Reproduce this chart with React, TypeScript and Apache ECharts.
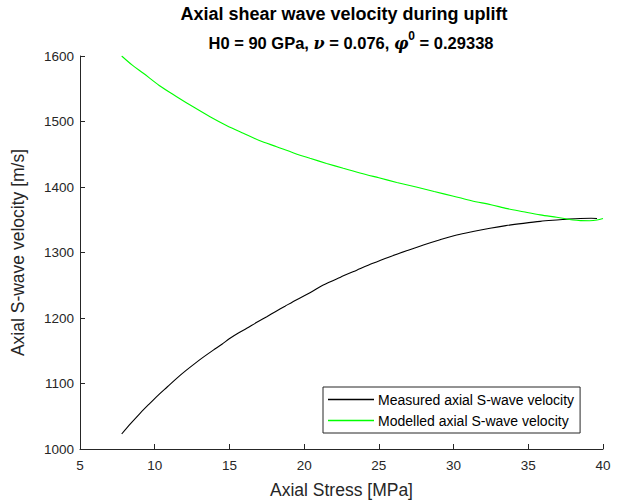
import React, { useEffect, useRef } from "react";
import * as echarts from "echarts";

const xTicks = [5, 10, 15, 20, 25, 30, 35, 40];
const yTicks = [1000, 1100, 1200, 1300, 1400, 1500, 1600];

const measuredStress = [7.79, 8.4, 9.02, 9.6, 10.24, 10.85, 11.47, 12.1, 12.7, 13.3, 13.92, 14.5, 15.04, 15.6, 16.16, 16.8, 17.5, 18.1, 18.72, 19.5, 20.39, 21.28, 22.4, 23.52, 24.6, 25.75, 26.9, 27.98, 29.1, 30.21, 31.3, 32.44, 33.5, 34.67, 35.8, 36.9, 37.7, 38.47, 39.2, 39.6];
const measuredVel = [1022.9, 1039, 1054.5, 1068, 1082.4, 1095, 1107.9, 1120, 1130.8, 1141, 1151, 1160, 1169, 1177, 1184.2, 1193, 1202, 1210, 1218, 1228, 1238.7, 1250.4, 1262, 1273, 1283.5, 1293.6, 1303, 1311.5, 1319.5, 1326.7, 1332, 1337, 1341, 1344.5, 1347.5, 1349.6, 1351, 1352, 1352.3, 1352];

const modelStress = [7.79, 8.5, 9.24, 10.3, 11.47, 12.6, 13.7, 14.8, 15.93, 17.0, 18.16, 19.3, 20.39, 21.5, 22.62, 23.8, 25.0, 26.2, 27.5, 28.7, 30.0, 31.2, 32.5, 33.6, 34.67, 35.8, 36.9, 37.5, 38.0, 38.5, 39.1, 39.6, 40.0];
const modelVel = [1600, 1586, 1573.6, 1555, 1537.9, 1522, 1507.3, 1494, 1482, 1471, 1461.5, 1452, 1443.8, 1436, 1428.5, 1421, 1414, 1407, 1400, 1393, 1386, 1379, 1373, 1367, 1362.3, 1357.5, 1353.7, 1351.5, 1349.6, 1348.7, 1348.5, 1349.5, 1352];

const measuredName = "Measured axial S-wave velocity";
const modelName = "Modelled axial S-wave velocity";
const titleLine1 = "Axial shear wave velocity during uplift";

const FONT = "'Liberation Sans', Arial, Helvetica, sans-serif";
const TXT = "#262626";

export default function App() {
  const ref = useRef<HTMLDivElement>(null);
  useEffect(() => {
    if (!ref.current) return;
    const chart = echarts.init(ref.current, undefined, { renderer: "svg" });
    const axisCommon = {
      axisLine: { show: true, lineStyle: { color: TXT, width: 1 } },
      axisTick: { show: true, inside: true, length: 5, lineStyle: { color: TXT } },
      splitLine: { show: false },
      nameTextStyle: { color: TXT, fontSize: 17.5, fontFamily: FONT },
    };
    const labelBase = { color: TXT, fontSize: 13.5, fontFamily: FONT, formatter: (v: number) => String(v) };
    chart.setOption({
      animation: false,
      backgroundColor: "#ffffff",
      textStyle: { fontFamily: FONT },
      title: [
        {
          left: 339,
          textAlign: "center",
          top: 0,
          text: titleLine1,
          textStyle: { fontSize: 18, fontWeight: "bold", color: "#000", fontFamily: FONT },
        },
        {
          left: 346,
          textAlign: "center",
          top: 25,
          text: "{b|H0 = 90 GPa, }{i|ν}{b| = 0.076, }{i|φ}{sup|0}{b| = 0.29338}",
          textStyle: {
            rich: {
              b: { fontSize: 16.5, fontWeight: "bold", color: "#000", fontFamily: FONT, lineHeight: 26 },
              i: { fontSize: 16, fontStyle: "italic", fontWeight: "bold", color: "#000", fontFamily: "'DejaVu Serif', serif", lineHeight: 26 },
              sup: { fontSize: 12, fontWeight: "bold", color: "#000", fontFamily: FONT, verticalAlign: "top", padding: [0, 0, 10, 0], lineHeight: 26 },
            },
          },
        },
      ],
      grid: { left: 80, right: 33, top: 56, bottom: 55 },
      xAxis: {
        type: "value",
        min: 5,
        max: 40,
        interval: 5,
        name: "Axial Stress [MPa]",
        nameLocation: "middle",
        nameGap: 32,
        ...axisCommon,
        axisLabel: { ...labelBase, margin: 9, customValues: xTicks },
      },
      yAxis: {
        type: "value",
        min: 1000,
        max: 1600,
        interval: 100,
        name: "Axial S-wave velocity [m/s]",
        nameLocation: "middle",
        nameGap: 53,
        ...axisCommon,
        axisLabel: { ...labelBase, margin: 6, customValues: yTicks },
      },
      legend: {
        orient: "vertical",
        left: 323,
        top: 387,
        backgroundColor: "#fff",
        borderColor: TXT,
        borderWidth: 1,
        borderRadius: 0,
        padding: [5, 6, 5, 5],
        itemGap: 6,
        itemWidth: 46,
        itemHeight: 1.3,
        icon: "rect",
        textStyle: { color: "#000", fontSize: 14, fontFamily: FONT, lineHeight: 15, padding: [0, 0, 0, -1] },
        data: [measuredName, modelName],
      },
      series: [
        {
          name: measuredName,
          type: "line",
          data: measuredStress.map((s, i) => [s, measuredVel[i]]),
          symbol: "none",
          smooth: 0.3,
          lineStyle: { color: "#000000", width: 1.1 },
          itemStyle: { color: "#000000" },
          z: 3,
        },
        {
          name: modelName,
          type: "line",
          data: modelStress.map((s, i) => [s, modelVel[i]]),
          symbol: "none",
          smooth: 0.3,
          lineStyle: { color: "#00ff00", width: 1.1 },
          itemStyle: { color: "#00ff00" },
          z: 4,
        },
      ],
    });
    return () => chart.dispose();
  }, []);
  return <div ref={ref} style={{ width: 636, height: 504, position: "absolute", left: 0, top: 0 }} />;
}
